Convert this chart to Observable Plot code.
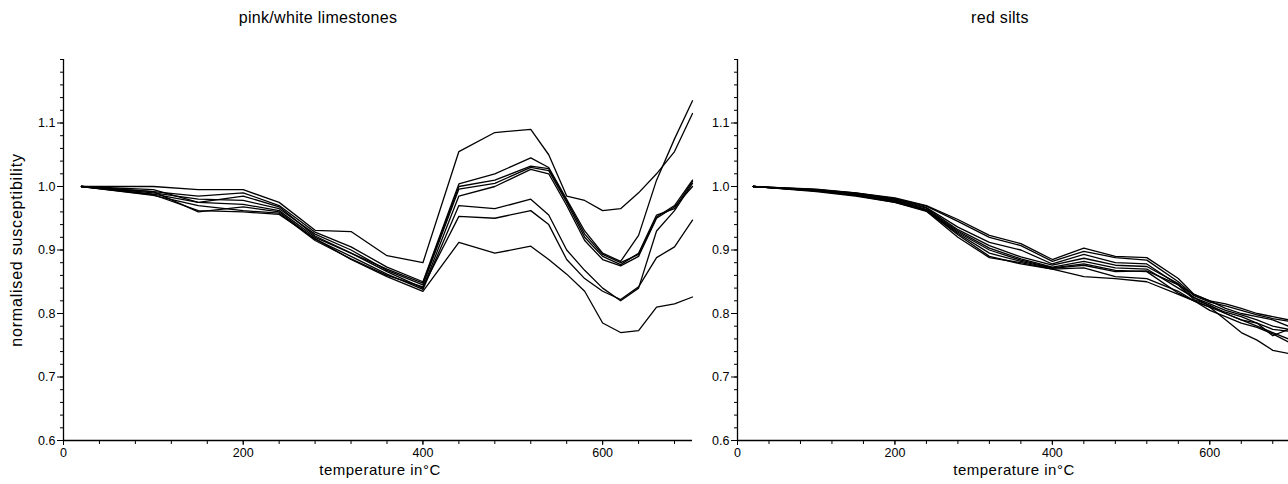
<!DOCTYPE html>
<html><head><meta charset="utf-8">
<script src="https://cdn.jsdelivr.net/npm/d3@7"></script>
<script src="https://cdn.jsdelivr.net/npm/@observablehq/plot@0.6"></script>
<style>
body{margin:0;background:#fff;font-family:"Liberation Sans",Arial,sans-serif;color:#000;}
#wrap{position:relative;width:1288px;height:484px;overflow:hidden;background:#fff;}
.title{position:absolute;z-index:2;top:9px;font-size:16px;letter-spacing:0.3px;transform:translateX(-50%);white-space:nowrap;}
.xlab{position:absolute;z-index:2;top:461px;font-size:15px;letter-spacing:0.5px;transform:translateX(-50%);white-space:nowrap;}
.ylab{position:absolute;z-index:2;left:17px;top:250px;font-size:16px;letter-spacing:0.8px;white-space:nowrap;transform:translate(-50%,-50%) rotate(-90deg);}
.pane{position:absolute;top:0;z-index:1;}
</style></head>
<body><div id="wrap">
<div id="left" class="pane" style="left:0"></div>
<div id="right" class="pane" style="left:700px"></div>
<div class="title" style="left:318px">pink/white limestones</div>
<div class="title" style="left:1000px">red silts</div>
<div class="ylab">normalised susceptibility</div>
<div class="xlab" style="left:380px">temperature in°C</div>
<div class="xlab" style="left:1014px">temperature in°C</div>
</div>
<script>
// temperatures (°C)
const tempsLime = [20,100,150,200,240,280,320,360,400,440,480,520,540,560,580,600,620,640,660,680,700];
const tempsSilt = [20,100,150,200,240,280,320,360,400,440,480,520,560,580,600,620,640,660,680,700];

// pink/white limestones
const limeA = [1.0,1.0,0.995,0.995,0.975,0.931,0.929,0.891,0.880,1.055,1.085,1.09,1.05,0.985,0.978,0.962,0.965,0.99,1.02,1.055,1.115];
const limeB = [1.0,0.992,0.985,0.99,0.97,0.928,0.905,0.873,0.85,1.004,1.02,1.045,1.03,0.98,0.93,0.895,0.882,0.923,1.01,1.075,1.135];
const limeC = [1.0,0.99,0.98,0.978,0.965,0.925,0.9,0.868,0.845,0.996,1.005,1.03,1.025,0.975,0.92,0.89,0.877,0.895,0.955,0.965,1.008];
const limeD = [1.0,0.988,0.975,0.972,0.962,0.92,0.895,0.866,0.84,0.985,1.0,1.027,1.02,0.97,0.915,0.885,0.875,0.89,0.95,0.968,1.0];
const limeE = [1.0,0.995,0.975,0.985,0.968,0.922,0.895,0.87,0.848,1.0,1.01,1.032,1.028,0.978,0.925,0.893,0.88,0.893,0.952,0.97,1.01];
const limeF = [1.0,0.992,0.96,0.968,0.96,0.917,0.89,0.862,0.838,0.97,0.965,0.98,0.955,0.9,0.868,0.84,0.82,0.84,0.93,0.962,1.005];
const limeG = [1.0,0.986,0.97,0.962,0.958,0.915,0.886,0.86,0.842,0.953,0.95,0.962,0.94,0.885,0.855,0.835,0.822,0.842,0.888,0.905,0.947];
const limeH = [1.0,0.987,0.962,0.96,0.956,0.918,0.885,0.858,0.835,0.912,0.895,0.906,0.885,0.862,0.835,0.785,0.77,0.773,0.81,0.815,0.826];

// red silts
const silt1 = [1.0,0.996,0.99,0.982,0.97,0.948,0.923,0.91,0.885,0.903,0.89,0.888,0.855,0.83,0.82,0.815,0.808,0.8,0.795,0.79];
const silt2 = [1.0,0.995,0.99,0.981,0.969,0.945,0.92,0.907,0.882,0.898,0.888,0.884,0.85,0.828,0.818,0.812,0.805,0.798,0.792,0.788];
const silt3 = [1.0,0.995,0.989,0.98,0.967,0.936,0.912,0.9,0.878,0.893,0.88,0.878,0.845,0.83,0.82,0.808,0.8,0.795,0.79,0.78];
const silt4 = [1.0,0.994,0.988,0.979,0.966,0.932,0.907,0.889,0.876,0.887,0.876,0.874,0.847,0.825,0.815,0.805,0.798,0.79,0.78,0.775];
const silt5 = [1.0,0.994,0.987,0.978,0.964,0.93,0.903,0.886,0.873,0.882,0.872,0.87,0.84,0.825,0.812,0.802,0.795,0.785,0.775,0.772];
const silt6 = [1.0,0.993,0.987,0.977,0.963,0.928,0.9,0.884,0.872,0.878,0.868,0.866,0.832,0.82,0.81,0.8,0.79,0.78,0.77,0.76];
const silt7 = [1.0,0.993,0.986,0.976,0.962,0.926,0.895,0.882,0.871,0.876,0.866,0.867,0.845,0.822,0.813,0.8,0.79,0.785,0.765,0.775];
const silt8 = [1.0,0.993,0.986,0.975,0.962,0.924,0.89,0.878,0.87,0.872,0.858,0.855,0.835,0.82,0.805,0.795,0.785,0.778,0.768,0.755];
const silt9 = [1.0,0.992,0.985,0.975,0.961,0.92,0.888,0.88,0.87,0.858,0.855,0.85,0.83,0.82,0.81,0.79,0.77,0.758,0.742,0.737];

// axis ticks
const xMajor = [0, 200, 400, 600];
const xMinor = d3.range(0, 681, 40);
const yMajor = [0.6, 0.7, 0.8, 0.9, 1.0, 1.1];
const yMinor = d3.range(0, 31).map(i => 0.6 + i * 0.02);

function panel(temps, series, width, marginLeft, marginRight) {
  const rows = series.flatMap((vals, i) => vals.map((v, j) => ({t: temps[j], v, s: i})));
  return Plot.plot({
    width, height: 484,
    marginLeft, marginRight, marginTop: 59, marginBottom: 44,
    style: {fontFamily: "'Liberation Sans', Arial, sans-serif", fontSize: "12px", color: "#000", background: "transparent"},
    x: {domain: [0, 700], label: null},
    y: {domain: [0.6, 1.2], label: null},
    marks: [
      Plot.axisX({ticks: xMinor, tickSize: 4, tickFormat: () => "", label: null}),
      Plot.axisX({ticks: xMajor, tickSize: 5, tickPadding: 3, tickFormat: d3.format("d"), label: null, fontSize: 12.5}),
      Plot.axisY({ticks: yMinor, tickSize: 3, tickFormat: () => "", label: null}),
      Plot.axisY({ticks: yMajor, tickSize: 6, tickPadding: 2, tickFormat: d3.format(".1f"), label: null, fontSize: 12.5}),
      Plot.ruleX([0], {stroke: "#000", strokeWidth: 1.3}),
      Plot.ruleY([0.6], {stroke: "#000", strokeWidth: 1.3}),
      Plot.line(rows, {x: "t", y: "v", z: "s", stroke: "#000", strokeWidth: 1.3, curve: "linear"})
    ]
  });
}

document.getElementById("left").append(
  panel(tempsLime, [limeA, limeB, limeC, limeD, limeE, limeF, limeG, limeH], 700, 63, 8)
);
document.getElementById("right").append(
  panel(tempsSilt, [silt1, silt2, silt3, silt4, silt5, silt6, silt7, silt8, silt9], 588, 37, 0)
);
</script>
</body></html>
